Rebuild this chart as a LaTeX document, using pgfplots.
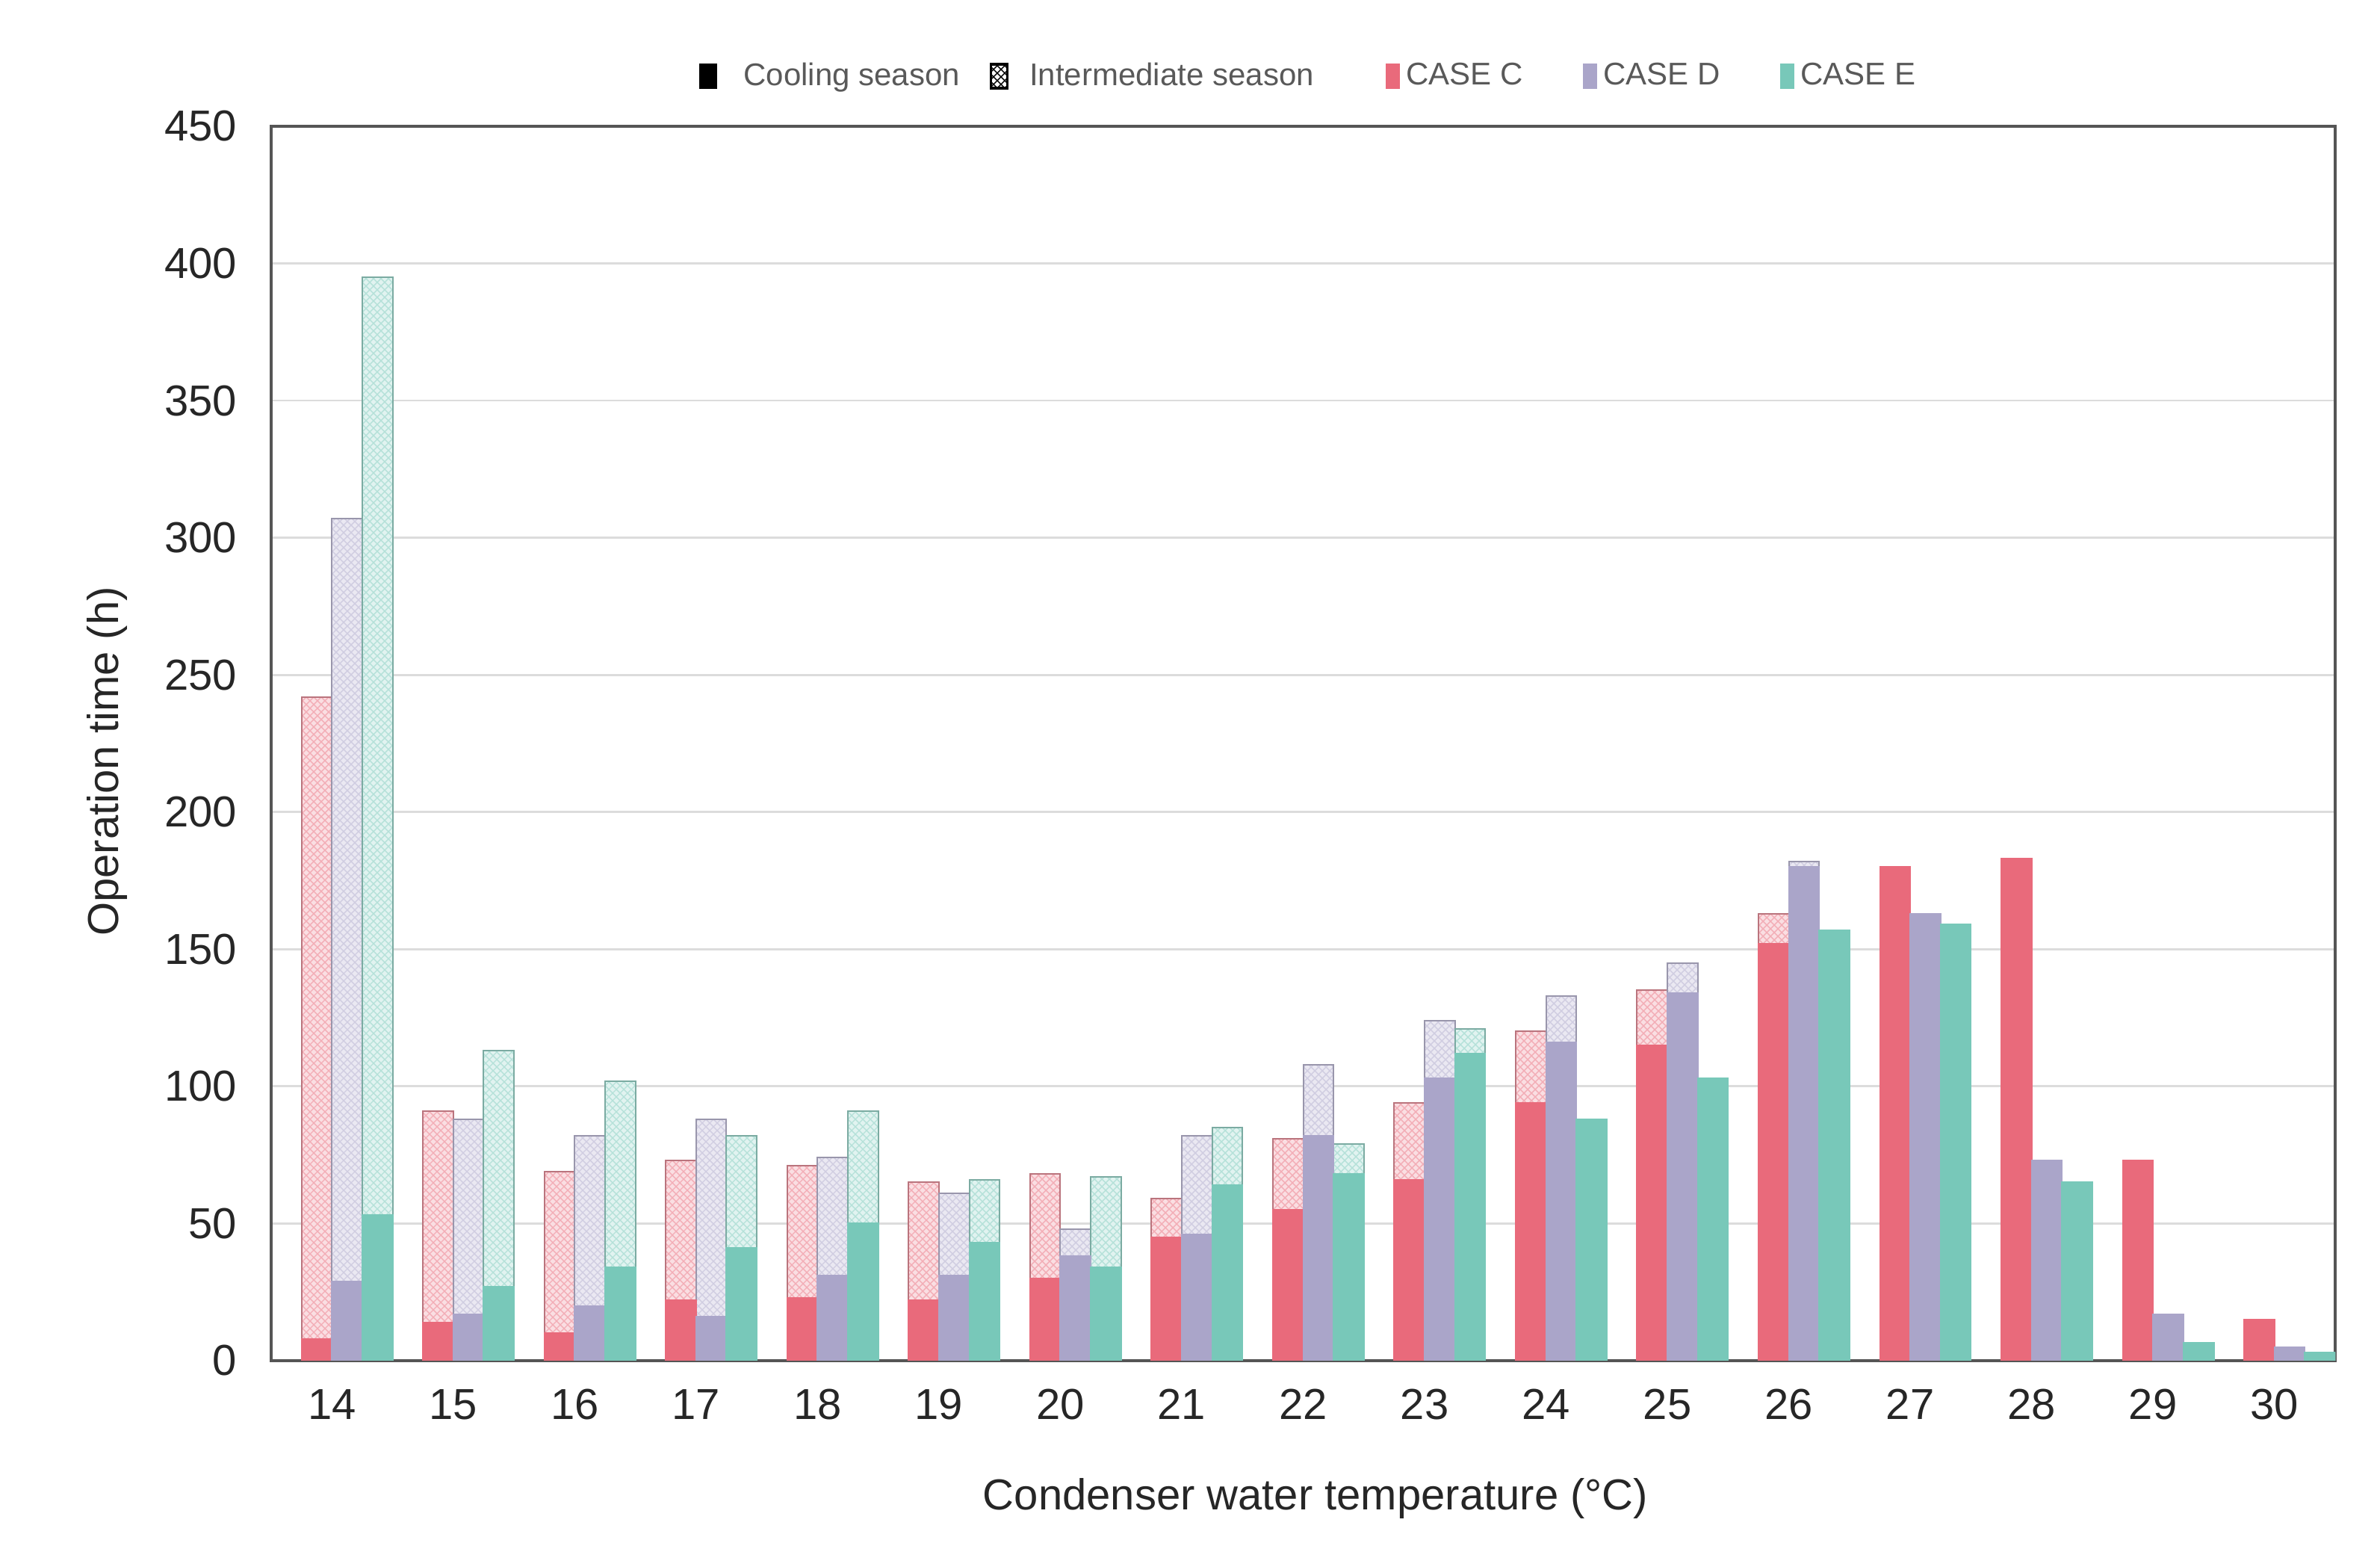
\documentclass[border=0pt]{standalone}
\usepackage{fontspec}
\setmainfont{Liberation Sans}
\usepackage{pgfplots}
\pgfplotsset{compat=1.18}
\usepackage{pgfplotstable}
\usetikzlibrary{patterns}

\definecolor{cC}{HTML}{E96A7B}
\definecolor{cD}{HTML}{AAA5C9}
\definecolor{cE}{HTML}{78C8B9}
\definecolor{gridc}{HTML}{DCDCDC}
\definecolor{axc}{HTML}{555555}

\pgfdeclarepatternformonly{finecross}{\pgfqpoint{-0.5pt}{-0.5pt}}{\pgfqpoint{3pt}{3pt}}{\pgfqpoint{2.5pt}{2.5pt}}{%
 \pgfsetlinewidth{0.35pt}%
 \pgfpathmoveto{\pgfqpoint{0pt}{0pt}}\pgfpathlineto{\pgfqpoint{2.5pt}{2.5pt}}%
 \pgfpathmoveto{\pgfqpoint{0pt}{2.5pt}}\pgfpathlineto{\pgfqpoint{2.5pt}{0pt}}%
 \pgfusepath{stroke}}

\pgfplotstableread{
x  Ccool Ctot Dcool Dtot Ecool Etot
14 8     242  29    307  53    395
15 14    91   17    88   27    113
16 10    69   20    82   34    102
17 22    73   16    88   41    82
18 23    71   31    74   50    91
19 22    65   31    61   43    66
20 30    68   38    48   34    67
21 45    59   46    82   64    85
22 55    81   82    108  68    79
23 66    94   103   124  112   121
24 94    120  116   133  88    88
25 115   135  134   145  103   103
26 152   163  180   182  157   157
27 180   180  163   163  159   159
28 183   183  73    73   65    65
29 73    73   17    17   6.5   6.5
30 15    15   5     5    3     3
}\data

\begin{document}
\begin{tikzpicture}
\begin{axis}[
  name=ax, scale only axis, width=690.75pt, height=413pt,
  xmin=13.5, xmax=30.5, ymin=0, ymax=450,
  ybar, bar width=0.25,
  xtick={14,...,30}, ytick={0,50,...,450},
  major tick length=0pt,
  ymajorgrids, grid style={gridc, line width=0.7pt},
  axis line style={axc, line width=1pt},
  /pgf/number format/assume math mode=true,
  tick label style={font=\fontsize{14.5}{17}\selectfont, text=black!85},
  yticklabel style={xshift=-8pt},
  xticklabel style={yshift=-6pt},
  xlabel={Condenser water temperature (°C)},
  ylabel={Operation time (h)},
  label style={font=\fontsize{14.5}{17}\selectfont, text=black!85},
  xlabel style={at={(axis description cs:0.506,-0.1114)}, anchor=center},
  ylabel style={at={(axis description cs:-0.0796,0.4855)}, anchor=center},
  legend style={draw=none, fill=none, at={(axis description cs:0.5035,1.0406)}, anchor=center,
    font=\fontsize{10.5}{12}\selectfont, text=black!65, legend columns=-1,
    /tikz/every even column/.append style={column sep=18pt}},
]
\addlegendimage{legend image code/.code={\fill[black] (0pt,-4pt) rectangle (5.5pt,4pt);}}
\addlegendentry{\hspace{7pt}Cooling season\kern-10pt}
\addlegendimage{legend image code/.code={\draw[black, line width=0.8pt, fill=white, postaction={pattern=finecross, pattern color=black}] (0pt,-4pt) rectangle (5.5pt,4pt);}}
\addlegendentry{\hspace{5pt}Intermediate season\kern4pt}
\addlegendimage{legend image code/.code={\fill[cC] (0pt,-4pt) rectangle (4.5pt,4pt);}}
\addlegendentry{CASE C}
\addlegendimage{legend image code/.code={\fill[cD] (0pt,-4pt) rectangle (4.5pt,4pt);}}
\addlegendentry{CASE D}
\addlegendimage{legend image code/.code={\fill[cE] (0pt,-4pt) rectangle (4.5pt,4pt);}}
\addlegendentry{CASE E}

% intermediate (total) bars
\addplot[forget plot, bar shift=-0.125, fill=cC!22, draw=cC!55!gray, line width=0.5pt,
  postaction={pattern=finecross, pattern color=cC!55}] table[x=x, y=Ctot] {\data};
\addplot[forget plot, bar shift=0.125, fill=cD!25, draw=cD!60!gray, line width=0.5pt,
  postaction={pattern=finecross, pattern color=cD!55}] table[x=x, y=Dtot] {\data};
\addplot[forget plot, bar shift=0.375, fill=cE!22, draw=cE!60!gray, line width=0.5pt,
  postaction={pattern=finecross, pattern color=cE!55}] table[x=x, y=Etot] {\data};
% cooling bars
\addplot[forget plot, bar shift=-0.125, fill=cC, draw=cC, line width=0.5pt] table[x=x, y=Ccool] {\data};
\addplot[forget plot, bar shift=0.125, fill=cD, draw=cD, line width=0.5pt] table[x=x, y=Dcool] {\data};
\addplot[forget plot, bar shift=0.375, fill=cE, draw=cE, line width=0.5pt] table[x=x, y=Ecool] {\data};
\end{axis}
\pgfresetboundingbox
\path (ax.south west) ++(-90.75pt,-63pt) rectangle ([shift={(15pt,42.25pt)}]ax.north east);
\end{tikzpicture}
\end{document}
